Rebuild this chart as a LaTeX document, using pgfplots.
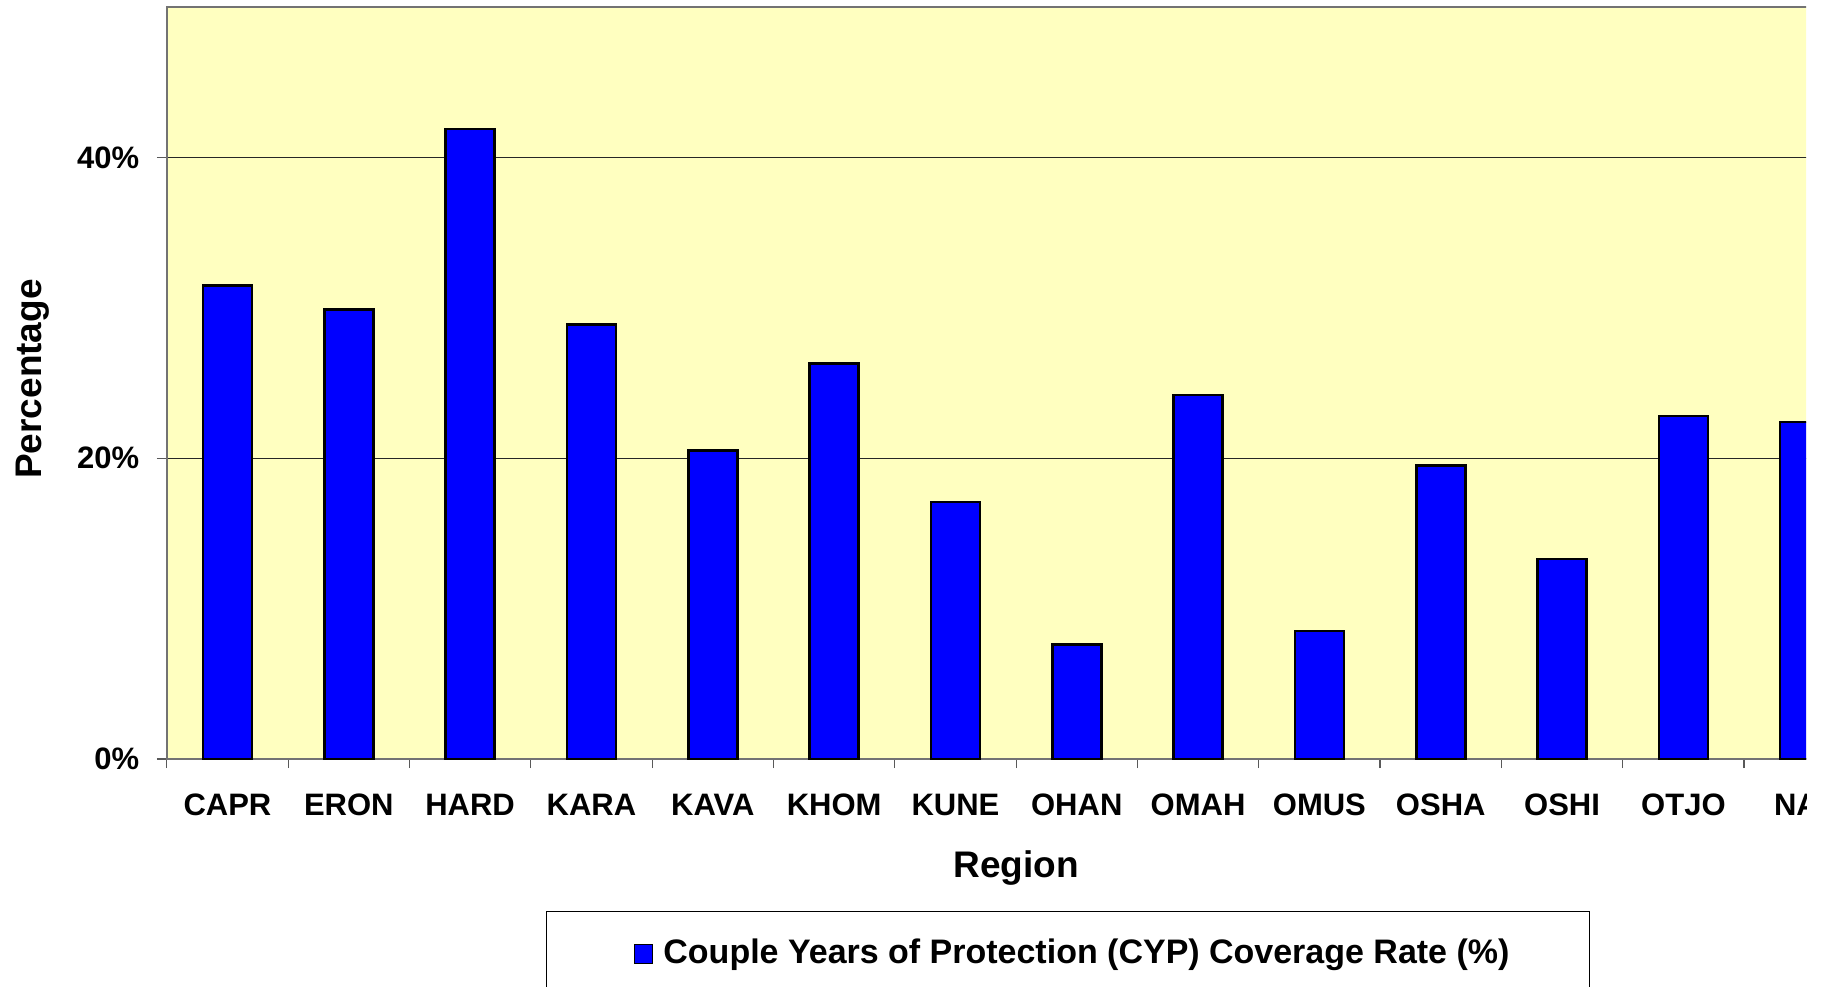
\documentclass[border=0pt]{standalone}
\usepackage{fontspec}
\setmainfont{Liberation Sans}
\usepackage{pgfplots}
\pgfplotsset{compat=1.18}
\definecolor{plotbg}{HTML}{FFFFC0}
\definecolor{barblue}{HTML}{0000FF}
\begin{document}
\begin{tikzpicture}
\useasboundingbox (0,0) rectangle (18.29,9.86);
\begin{scope}
\clip (0,0) rectangle (18.06,9.86);
\begin{axis}[
  at={(1.668cm,2.27cm)}, anchor=south west,
  scale only axis, width=16.986cm, height=7.52cm,
  xmin=-0.5, xmax=13.5, ymin=0, ymax=50,
  enlargelimits=false,
  ybar, bar width=0.49cm,
  axis background/.style={fill=plotbg},
  axis line style={draw=black!55, line width=0.02cm},
  ytick={0,20,40}, yticklabels={0\%,20\%,40\%},
  ymajorgrids, grid style={black!85, line width=0.012cm},
  xtick={0,1,2,3,4,5,6,7,8,9,10,11,12,13},
  xticklabels={CAPR,ERON,HARD,KARA,KAVA,KHOM,KUNE,OHAN,OMAH,OMUS,OSHA,OSHI,OTJO,NAT},
  minor xtick={-0.5,0.5,1.5,2.5,3.5,4.5,5.5,6.5,7.5,8.5,9.5,10.5,11.5,12.5,13.5},
  major x tick style={draw=none},
  xtick pos=lower, ytick pos=left,
  tick align=outside, major tick length=0.10cm, minor tick length=0.09cm,
  tick style={black!65, line width=0.012cm},
  xticklabel style={font=\fontsize{8.82pt}{10pt}\selectfont\bfseries, anchor=north, inner sep=0pt, yshift=-0.245cm},
  yticklabel style={font=\fontsize{8.82pt}{10pt}\selectfont\bfseries, anchor=east, inner sep=0pt, xshift=-0.17cm},
  xlabel={Region},
  xlabel style={at={(axis description cs:0.5,-0.1573)}, anchor=base, inner sep=0pt, font=\fontsize{10.53pt}{12pt}\selectfont\bfseries},
  ylabel={Percentage},
  ylabel style={at={(axis description cs:-0.0736,0.5053)}, anchor=base, inner sep=0pt, rotate=0, font=\fontsize{10.53pt}{12pt}\selectfont\bfseries},
  legend style={at={(0.2232,-0.2021)}, anchor=north west, draw=black, line width=0.015cm, fill=white,
    inner xsep=0.80cm, inner ysep=0.27cm, column sep=0.10cm,
    font=\fontsize{9.67pt}{11pt}\selectfont\bfseries, nodes={inner sep=0pt}, cells={anchor=west}},
  legend image code/.code={\path (0cm,0cm); \draw[#1, line width=0.01cm] (0.07cm,-0.095cm) rectangle (0.25cm,0.095cm);},
]
\addplot[fill=barblue, draw=black, line width=0.025cm] coordinates {
  (0,31.5) (1,29.9) (2,41.9) (3,28.9) (4,20.5) (5,26.3) (6,17.1)
  (7,7.6) (8,24.2) (9,8.5) (10,19.5) (11,13.3) (12,22.8) (13,22.4)
};
\addlegendentry{Couple Years of Protection (CYP) Coverage Rate (\%)}
\end{axis}
\end{scope}
\end{tikzpicture}
\end{document}
